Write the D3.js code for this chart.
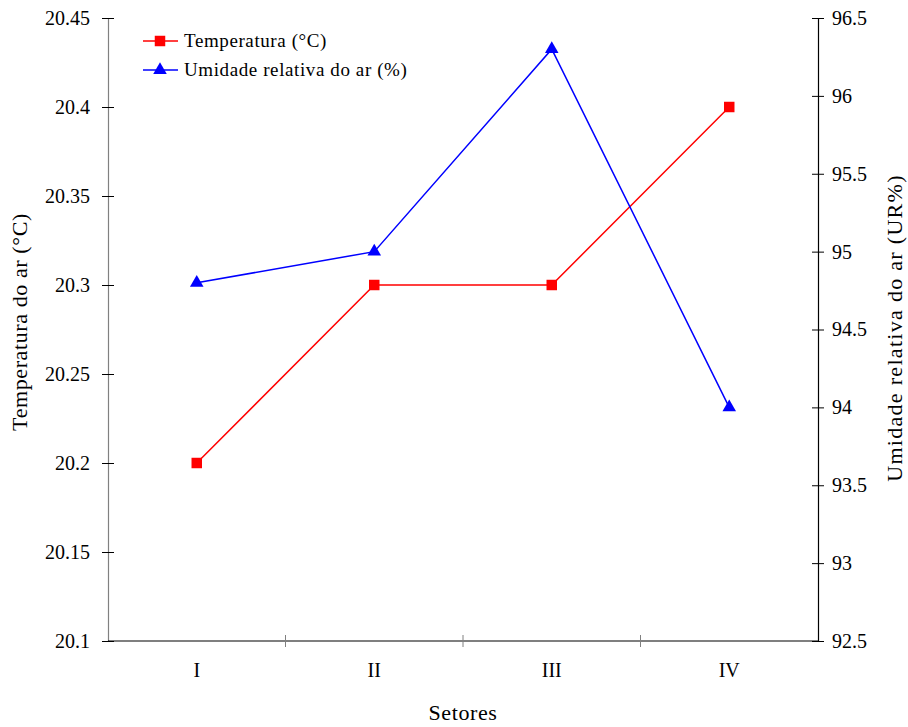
<!DOCTYPE html>
<html>
<head>
<meta charset="utf-8">
<script src="https://cdn.jsdelivr.net/npm/d3@7"></script>
<style>
  body { margin: 0; background: #fff; }
</style>
</head>
<body>
<script>
// data
var setores = ["I", "II", "III", "IV"];
var temperatura = [20.2, 20.3, 20.3, 20.4];
var umidade = [94.8, 95.0, 96.3, 94.0];
var tempTicks = [20.1, 20.15, 20.2, 20.25, 20.3, 20.35, 20.4, 20.45];
var urTicks = [92.5, 93, 93.5, 94, 94.5, 95, 95.5, 96, 96.5];

var W = 908, H = 727,
    mLeft = 108, mRight = 818, mTop = 18, mBottom = 641,
    serif = "Liberation Serif, Times New Roman, serif";

var svg = d3.select("body").append("svg")
  .attr("width", W).attr("height", H)
  .attr("font-family", serif);

var x = d3.scaleBand().domain(setores).range([mLeft, mRight]);
var yT = d3.scaleLinear().domain([20.1, 20.45]).range([mBottom, mTop]);
var yU = d3.scaleLinear().domain([92.5, 96.5]).range([mBottom, mTop]);

function fmt(d) { return String(+d.toFixed(2)); }

// left axis
var gl = svg.append("g").attr("transform", "translate(" + mLeft + ",0)")
  .call(d3.axisLeft(yT).tickValues(tempTicks).tickFormat(fmt).tickSize(6).tickPadding(12).tickSizeOuter(0));
gl.select(".domain").attr("stroke", "#808080");
gl.selectAll(".tick line").attr("x2", 6).attr("x1", -6).attr("stroke", "#000");

// right axis
var gr = svg.append("g").attr("transform", "translate(" + mRight + ",0)")
  .call(d3.axisRight(yU).tickValues(urTicks).tickFormat(fmt).tickSize(6).tickPadding(8).tickSizeOuter(0));
gr.selectAll(".tick line").attr("x1", -6).attr("x2", 6);

// bottom axis, ticks between categories
var gb = svg.append("g").attr("transform", "translate(0," + mBottom + ")")
  .call(d3.axisBottom(x).tickSize(0).tickPadding(22));
gb.selectAll(".tick text").attr("dy", "0.71em");
gb.select(".domain").attr("d", "M" + mLeft + ",0H" + mRight);
var edges = setores.map(function(d) { return x(d); }).slice(1);
gb.selectAll(".sep").data(edges).enter().append("line")
  .attr("x1", function(d) { return d; }).attr("x2", function(d) { return d; })
  .attr("y1", -6).attr("y2", 6).attr("stroke", "#808080");

[gl, gr, gb].forEach(function(g) {
  g.attr("font-family", serif).attr("font-size", 20);
});
svg.selectAll(".domain").attr("stroke-width", 1.2);

var cx = function(d, i) { return x(setores[i]) + x.bandwidth() / 2; };

// temperature line
svg.append("path").datum(temperatura)
  .attr("fill", "none").attr("stroke", "#ff0000").attr("stroke-width", 1.5)
  .attr("d", d3.line().x(cx).y(function(d) { return yT(d); }));
svg.selectAll(".sq").data(temperatura).enter().append("path")
  .attr("transform", function(d, i) { return "translate(" + cx(d, i) + "," + yT(d) + ")"; })
  .attr("d", d3.symbol().type(d3.symbolSquare).size(110))
  .attr("fill", "#ff0000");

// humidity line
svg.append("path").datum(umidade)
  .attr("fill", "none").attr("stroke", "#0000ff").attr("stroke-width", 1.5)
  .attr("d", d3.line().x(cx).y(function(d) { return yU(d); }));
svg.selectAll(".tri").data(umidade).enter().append("path")
  .attr("transform", function(d, i) { return "translate(" + cx(d, i) + "," + yU(d) + ")"; })
  .attr("d", d3.symbol().type(d3.symbolTriangle).size(80))
  .attr("fill", "#0000ff");

// legend
var legend = [
  { label: "Temperatura (°C)", color: "#ff0000", sym: d3.symbolSquare, size: 110 },
  { label: "Umidade relativa do ar (%)", color: "#0000ff", sym: d3.symbolTriangle, size: 80 }
];
var lg = svg.selectAll(".lg").data(legend).enter().append("g")
  .attr("transform", function(d, i) { return "translate(143," + (41 + i * 29) + ")"; });
lg.append("line").attr("x1", 0).attr("x2", 35)
  .attr("stroke", function(d) { return d.color; }).attr("stroke-width", 1.5);
lg.append("path").attr("transform", "translate(17,0)")
  .attr("d", function(d) { return d3.symbol().type(d.sym).size(d.size)(); })
  .attr("fill", function(d) { return d.color; });
lg.append("text").attr("x", 41).attr("y", 6).attr("font-size", 19)
  .attr("letter-spacing", 0.6)
  .text(function(d) { return d.label; });

// axis titles
svg.append("text").attr("transform", "translate(27,322) rotate(-90)")
  .attr("text-anchor", "middle").attr("font-size", 22).attr("letter-spacing", 0.6)
  .text("Temperatura do ar (°C)");
svg.append("text").attr("transform", "translate(902,328) rotate(-90)")
  .attr("text-anchor", "middle").attr("font-size", 22).attr("letter-spacing", 1.3)
  .text("Umidade relativa do ar (UR%)");
svg.append("text").attr("x", 463).attr("y", 720)
  .attr("text-anchor", "middle").attr("font-size", 22).attr("letter-spacing", 0.6)
  .text("Setores");
</script>
</body>
</html>
